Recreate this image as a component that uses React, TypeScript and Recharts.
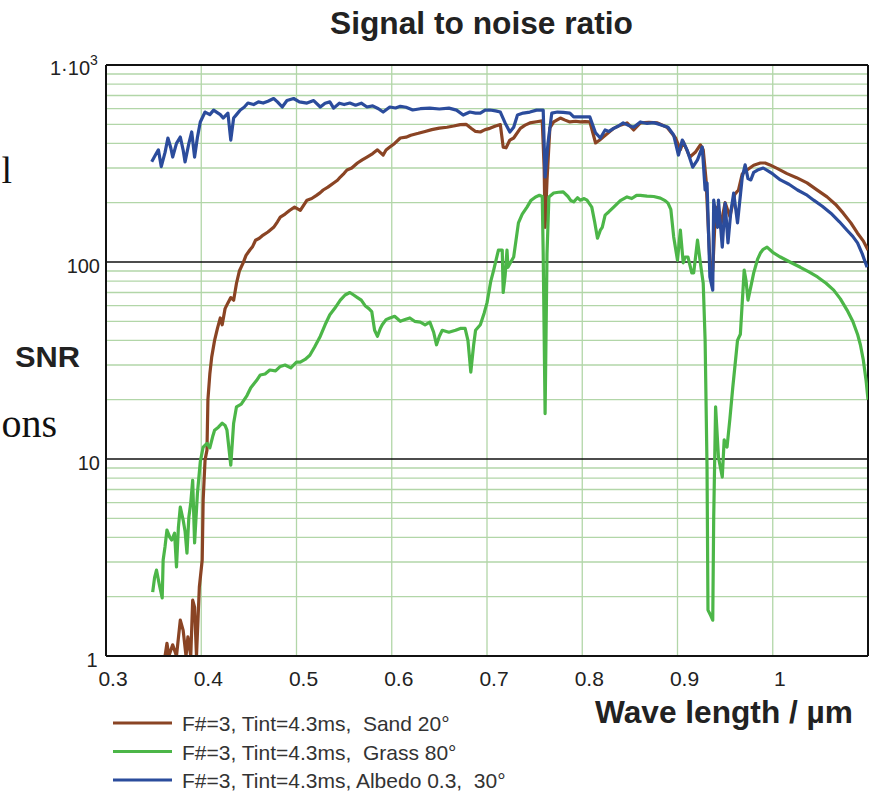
import React from "react";
import { LineChart, Line, XAxis, YAxis, CartesianGrid, ReferenceLine } from "recharts";

const FONT = "'Liberation Sans', Arial, sans-serif";
const SERIF = "'Liberation Serif', 'Times New Roman', serif";

const xTicks = [0.3, 0.4, 0.5, 0.6, 0.7, 0.8, 0.9, 1];
const xTickLabels = ["0.3", "0.4", "0.5", "0.6", "0.7", "0.8", "0.9", "1"];
const xGridValues = [0.4, 0.5, 0.6, 0.7, 0.8, 0.9, 1];
const yTicks = [1, 10, 100, 1000];
const yMinorGrid = [2, 3, 4, 5, 6, 7, 8, 9, 20, 30, 40, 50, 60, 70, 80, 90, 200, 300, 400, 500, 600, 700, 800, 900];
const yMajorGrid = [10, 100];

const seriesNames = [
  "F#=3, Tint=4.3ms,  Sand 20°",
  "F#=3, Tint=4.3ms,  Grass 80°",
  "F#=3, Tint=4.3ms, Albedo 0.3,  30°",
];
const seriesColors = ["#8a4424", "#4cb648", "#2b4c9c"];

const sand = [
  [0.362, 1.0], [0.364, 1.16], [0.366, 1.0], [0.370, 1.14], [0.374, 1.0], [0.378, 1.52], [0.381, 1.35], [0.384, 1.0],
  [0.386, 1.25], [0.389, 1.0], [0.391, 1.92], [0.393, 1.77], [0.395, 1.0], [0.398, 2.24], [0.401, 3.07], [0.402, 6.2],
  [0.404, 9.9], [0.406, 11.1], [0.407, 20], [0.409, 27], [0.411, 33], [0.414, 40], [0.417, 46], [0.420, 52], [0.422, 48],
  [0.425, 58], [0.428, 62], [0.431, 66], [0.434, 64], [0.437, 78], [0.440, 90], [0.444, 99], [0.447, 108], [0.451, 115],
  [0.454, 120], [0.457, 129], [0.461, 132], [0.465, 137], [0.470, 142], [0.476, 150], [0.480, 160], [0.483, 169],
  [0.488, 175], [0.493, 183], [0.498, 190], [0.504, 183], [0.511, 206], [0.516, 210], [0.521, 218], [0.525, 225],
  [0.528, 232], [0.533, 240], [0.539, 252], [0.543, 260], [0.546, 270], [0.550, 282], [0.553, 293], [0.558, 300],
  [0.564, 318], [0.569, 330], [0.574, 341], [0.580, 355], [0.585, 371], [0.591, 349], [0.594, 370], [0.598, 383],
  [0.603, 400], [0.609, 426], [0.615, 430], [0.620, 440], [0.628, 450], [0.635, 460], [0.642, 470], [0.650, 478],
  [0.658, 483], [0.665, 490], [0.672, 498], [0.678, 500], [0.684, 475], [0.688, 460], [0.693, 457], [0.698, 470],
  [0.703, 477], [0.709, 490], [0.714, 498], [0.717, 383], [0.720, 380], [0.724, 416], [0.728, 426], [0.735, 477],
  [0.740, 495], [0.745, 508], [0.752, 515], [0.758, 520], [0.760, 300], [0.761, 150], [0.763, 260], [0.766, 480],
  [0.770, 514], [0.777, 538], [0.782, 525], [0.787, 514], [0.793, 518], [0.798, 514], [0.803, 516], [0.808, 514],
  [0.814, 402], [0.818, 415], [0.822, 431], [0.828, 455], [0.833, 477], [0.840, 495], [0.847, 508], [0.854, 468],
  [0.861, 508], [0.870, 512], [0.879, 508], [0.889, 483], [0.898, 426], [0.903, 371], [0.906, 408], [0.913, 341],
  [0.919, 362], [0.924, 393], [0.927, 371], [0.930, 260], [0.934, 100], [0.937, 90], [0.940, 190], [0.945, 150],
  [0.950, 200], [0.955, 170], [0.960, 220], [0.964, 232], [0.968, 280], [0.973, 293], [0.980, 310], [0.987, 318],
  [0.992, 318], [0.997, 311], [1.005, 298], [1.015, 281], [1.025, 268], [1.036, 252], [1.046, 233], [1.057, 214],
  [1.066, 196], [1.074, 177], [1.082, 158], [1.089, 140], [1.095, 128], [1.1, 115],
];

const grass = [
  [0.349, 2.11], [0.351, 2.5], [0.353, 2.73], [0.356, 2.3], [0.359, 1.97], [0.360, 3.07], [0.362, 3.6], [0.364, 4.36],
  [0.367, 4.0], [0.369, 3.88], [0.372, 4.2], [0.374, 2.83], [0.376, 4.5], [0.378, 5.7], [0.381, 4.9], [0.383, 4.3],
  [0.385, 3.33], [0.387, 5.08], [0.389, 6.0], [0.391, 7.8], [0.393, 3.75], [0.396, 6.7], [0.399, 9.7], [0.402, 11.5],
  [0.406, 12.0], [0.409, 11.4], [0.412, 13], [0.414, 14], [0.418, 14.5], [0.422, 15.2], [0.425, 14.8], [0.427, 14],
  [0.431, 9.3], [0.434, 15.2], [0.437, 18.4], [0.442, 19], [0.448, 21], [0.452, 23], [0.458, 25], [0.462, 26.7],
  [0.467, 27], [0.472, 28.3], [0.478, 28], [0.483, 29.5], [0.488, 30], [0.494, 29], [0.500, 31], [0.504, 31],
  [0.509, 32], [0.514, 33.6], [0.519, 37], [0.525, 42], [0.530, 48], [0.535, 54], [0.540, 58], [0.546, 64],
  [0.551, 68], [0.556, 70], [0.560, 68], [0.564, 66], [0.568, 64], [0.572, 60], [0.576, 58], [0.579, 56], [0.582, 45],
  [0.585, 42], [0.588, 46], [0.590, 48], [0.594, 51], [0.598, 52], [0.603, 53], [0.609, 50], [0.614, 51], [0.619, 52],
  [0.624, 50], [0.630, 49.5], [0.635, 48], [0.640, 49.5], [0.644, 44], [0.647, 38], [0.650, 42], [0.653, 45],
  [0.660, 44], [0.667, 45], [0.672, 46], [0.677, 46], [0.680, 40], [0.683, 27.6], [0.686, 38], [0.688, 45],
  [0.693, 48], [0.697, 55], [0.700, 62], [0.704, 80], [0.707, 91], [0.712, 115], [0.716, 115], [0.717, 70],
  [0.719, 85], [0.721, 115], [0.722, 94], [0.725, 100], [0.728, 106], [0.733, 158], [0.737, 175], [0.742, 190],
  [0.746, 205], [0.751, 214], [0.755, 218], [0.758, 215], [0.759, 110], [0.761, 17], [0.763, 110], [0.765, 214],
  [0.770, 224], [0.775, 226], [0.780, 227], [0.785, 215], [0.788, 205], [0.791, 202], [0.795, 212], [0.798, 206],
  [0.802, 210], [0.805, 206], [0.810, 190], [0.813, 160], [0.816, 132], [0.819, 145], [0.821, 150], [0.824, 173],
  [0.828, 180], [0.833, 190], [0.840, 205], [0.847, 214], [0.852, 210], [0.857, 218], [0.861, 218], [0.868, 216],
  [0.875, 215], [0.882, 211], [0.887, 205], [0.890, 199], [0.893, 185], [0.896, 134], [0.900, 102], [0.903, 145],
  [0.906, 99], [0.908, 106], [0.911, 106], [0.915, 88], [0.917, 88], [0.921, 129], [0.924, 99], [0.927, 78],
  [0.929, 40], [0.931, 9.1], [0.932, 1.71], [0.935, 1.6], [0.937, 1.52], [0.938, 5], [0.940, 18.4], [0.943, 10.2],
  [0.947, 8.1], [0.949, 12.5], [0.952, 11.5], [0.955, 16], [0.958, 23], [0.961, 32], [0.963, 40], [0.966, 43],
  [0.970, 91], [0.972, 80], [0.974, 64], [0.977, 75], [0.980, 88], [0.984, 103], [0.987, 111], [0.990, 116],
  [0.994, 119], [1.000, 112], [1.008, 106], [1.018, 100], [1.029, 94], [1.038, 89], [1.047, 84], [1.056, 78],
  [1.064, 72], [1.071, 65], [1.078, 57], [1.084, 50], [1.089, 43], [1.092, 38], [1.095, 32], [1.098, 25], [1.1, 20],
];

const albedo = [
  [0.348, 323], [0.352, 350], [0.355, 371], [0.358, 305], [0.362, 360], [0.365, 426], [0.368, 380], [0.370, 341],
  [0.374, 400], [0.378, 431], [0.381, 370], [0.383, 322], [0.387, 400], [0.390, 457], [0.393, 341], [0.396, 430],
  [0.399, 514], [0.404, 577], [0.409, 560], [0.413, 590], [0.416, 577], [0.420, 560], [0.423, 538], [0.428, 570],
  [0.431, 416], [0.434, 538], [0.437, 560], [0.441, 591], [0.445, 610], [0.449, 641], [0.455, 630], [0.460, 650],
  [0.465, 641], [0.470, 655], [0.476, 676], [0.480, 650], [0.485, 612], [0.490, 660], [0.497, 676], [0.503, 650],
  [0.511, 641], [0.518, 660], [0.525, 612], [0.530, 640], [0.535, 650], [0.539, 604], [0.545, 640], [0.550, 630],
  [0.556, 641], [0.562, 625], [0.568, 640], [0.574, 612], [0.580, 620], [0.586, 600], [0.591, 577], [0.598, 612],
  [0.604, 605], [0.609, 617], [0.615, 610], [0.622, 591], [0.630, 600], [0.640, 604], [0.650, 598], [0.660, 604],
  [0.668, 590], [0.675, 557], [0.682, 577], [0.688, 570], [0.693, 570], [0.698, 590], [0.703, 591], [0.709, 585],
  [0.714, 577], [0.719, 508], [0.724, 457], [0.728, 483], [0.732, 557], [0.738, 570], [0.745, 577], [0.752, 590],
  [0.759, 590], [0.761, 270], [0.764, 400], [0.768, 570], [0.774, 577], [0.780, 575], [0.787, 570], [0.791, 545],
  [0.800, 545], [0.808, 545], [0.814, 452], [0.819, 426], [0.824, 468], [0.828, 460], [0.833, 477], [0.838, 490],
  [0.843, 508], [0.848, 495], [0.854, 483], [0.861, 514], [0.868, 505], [0.875, 510], [0.882, 498], [0.890, 483],
  [0.896, 441], [0.901, 349], [0.905, 416], [0.910, 371], [0.916, 303], [0.921, 330], [0.926, 383], [0.929, 232],
  [0.931, 252], [0.934, 84], [0.937, 72], [0.938, 206], [0.942, 150], [0.943, 206], [0.947, 119], [0.950, 199],
  [0.953, 125], [0.956, 180], [0.959, 224], [0.963, 158], [0.968, 270], [0.971, 311], [0.974, 265], [0.977, 261],
  [0.980, 285], [0.984, 293], [0.990, 300], [0.995, 290], [1.000, 280], [1.008, 261], [1.017, 248], [1.026, 232],
  [1.035, 220], [1.043, 206], [1.052, 192], [1.061, 177], [1.070, 160], [1.078, 145], [1.084, 135], [1.089, 125],
  [1.094, 110], [1.099, 94],
];

const toRows = (pairs: number[][]) => pairs.map(([x, y]) => ({ x, y }));
const seriesData = [toRows(sand), toRows(grass), toRows(albedo)];

const XTick = (props: any) => {
  const { x, payload } = props;
  const i = xTicks.indexOf(payload.value);
  return (
    <text x={x + 7} y={686} textAnchor="middle" fontSize={21} fill="#222" fontFamily={FONT}>
      {i >= 0 ? xTickLabels[i] : String(payload.value)}
    </text>
  );
};

const YTick = (props: any) => {
  const { y, payload } = props;
  const v = payload.value;
  if (v === 1000) {
    return (
      <g fontFamily={FONT} fill="#222">
        <text x={90} y={y + 10} textAnchor="end" fontSize={20}>1·10</text>
        <text x={90} y={y} textAnchor="start" fontSize={14}>3</text>
      </g>
    );
  }
  if (v === 1) {
    return (
      <text x={92} y={y + 11} textAnchor="middle" fontSize={20} fill="#222" fontFamily={FONT}>1</text>
    );
  }
  return (
    <text x={100} y={y + 11} textAnchor="end" fontSize={20} fill="#222" fontFamily={FONT}>{String(v)}</text>
  );
};

export default function App() {
  return (
    <div style={{ position: "absolute", left: 0, top: 0, width: 874, height: 791, background: "#fff" }}>
      <LineChart width={874} height={791} margin={{ top: 65, right: 6, bottom: 95, left: 46 }}>
        <CartesianGrid
          horizontalValues={yMinorGrid}
          verticalValues={xGridValues}
          stroke="#b2d6a8"
          strokeWidth={1.3}
        />
        <CartesianGrid horizontalValues={yMajorGrid} vertical={false} stroke="#111" strokeWidth={1.6} />
        <XAxis
          dataKey="x"
          type="number"
          domain={[0.3, 1.1]}
          ticks={xTicks}
          interval={0}
          allowDataOverflow
          tickLine={false}
          axisLine={{ stroke: "#111", strokeWidth: 2 }}
          height={40}
          tick={<XTick />}
        />
        <YAxis
          dataKey="y"
          type="number"
          scale="log"
          domain={[1, 1000]}
          ticks={yTicks}
          interval={0}
          allowDataOverflow
          tickLine={false}
          axisLine={{ stroke: "#111", strokeWidth: 2 }}
          width={60}
          tick={<YTick />}
        />
        <ReferenceLine y={1000} stroke="#111" strokeWidth={2} />
        <ReferenceLine x={1.1} stroke="#111" strokeWidth={2} />
        {seriesData.map((d, i) => (
          <Line
            key={i}
            data={d}
            dataKey="y"
            name={seriesNames[i]}
            type="linear"
            stroke={seriesColors[i]}
            strokeWidth={3.2}
            dot={false}
            activeDot={false}
            isAnimationActive={false}
            strokeLinejoin="round"
          />
        ))}
      </LineChart>
      <svg width={874} height={791} style={{ position: "absolute", left: 0, top: 0, pointerEvents: "none" }}>
        <text x={330} y={34} fontSize={31} fontWeight="bold" fill="#222" fontFamily={FONT}
          textLength={303} lengthAdjust="spacingAndGlyphs">
          Signal to noise ratio
        </text>
        <text x={15} y={367} fontSize={30} fontWeight="bold" fill="#222" fontFamily={FONT}
          textLength={65} lengthAdjust="spacingAndGlyphs">SNR</text>
        <text x={595} y={723} fontSize={31} fontWeight="bold" fill="#222" fontFamily={FONT}
          textLength={258} lengthAdjust="spacingAndGlyphs">Wave length / µm</text>
        <text x={12} y={183} textAnchor="end" fontSize={38} fill="#111" fontFamily={SERIF}>l</text>
        <text x={57} y={437} textAnchor="end" fontSize={40} fill="#111" fontFamily={SERIF}>ons</text>
        {seriesNames.map((name, i) => (
          <g key={i}>
            <line x1={113} x2={172} y1={723 + i * 28.5} y2={723 + i * 28.5} stroke={seriesColors[i]} strokeWidth={3.2} />
            <text x={182} y={731 + i * 28.5} fontSize={21} fill="#333" fontFamily={FONT} style={{ whiteSpace: "pre" }}>
              {name}
            </text>
          </g>
        ))}
      </svg>
    </div>
  );
}
